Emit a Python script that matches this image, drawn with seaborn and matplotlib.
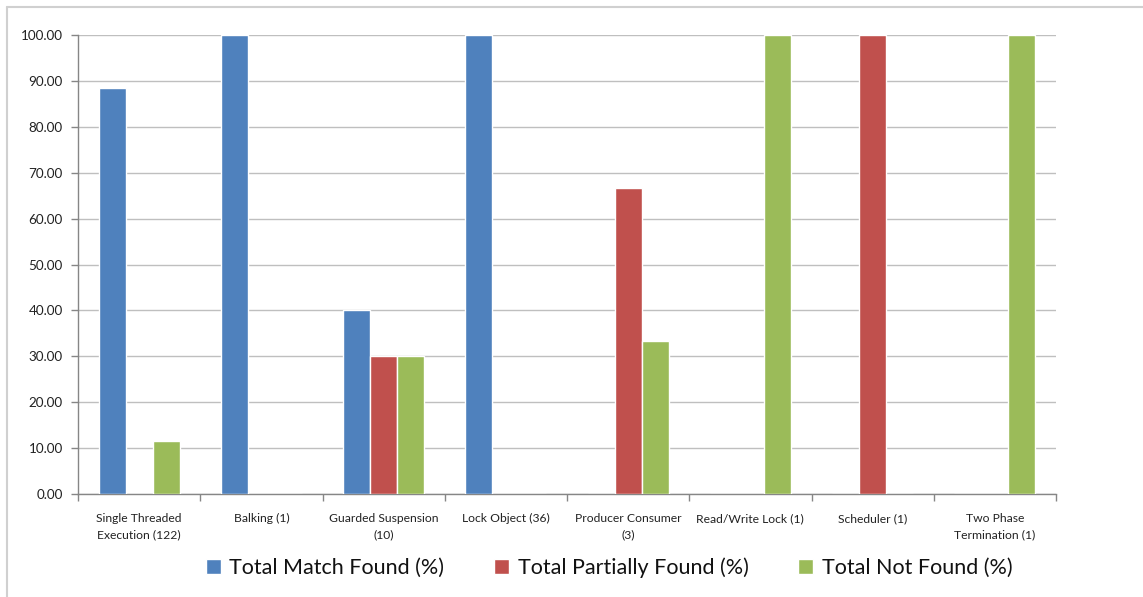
import matplotlib
matplotlib.use("Agg")
import matplotlib.pyplot as plt
import seaborn as sns
import pandas as pd
import numpy as np
from matplotlib.lines import Line2D
from matplotlib.ticker import FixedLocator, FormatStrFormatter

categories = ["Single Threaded\nExecution (122)", "Balking (1)", "Guarded Suspension\n(10)",
              "Lock Object (36)", "Producer Consumer\n(3)", "Read/Write Lock (1)",
              "Scheduler (1)", "Two Phase\nTermination (1)"]
series_names = ["Total Match Found (%)", "Total Partially Found (%)", "Total Not Found (%)"]
match_found = [88.52, 100.0, 40.0, 100.0, 0.0, 0.0, 0.0, 0.0]
partially_found = [0.0, 0.0, 30.0, 0.0, 66.67, 0.0, 100.0, 0.0]
not_found = [11.48, 0.0, 30.0, 0.0, 33.33, 100.0, 0.0, 100.0]
colors = ["#4F81BD", "#C0504D", "#9BBB59"]

rows = []
for name, vals in zip(series_names, [match_found, partially_found, not_found]):
    for c, v in zip(categories, vals):
        rows.append({"category": c, "series": name, "value": v})
df = pd.DataFrame(rows)

sns.set_style("white")
plt.rcParams["font.family"] = ["Lato", "DejaVu Sans"]

fig = plt.figure(figsize=(11.43, 5.97), dpi=100)
W, H = 1143, 597
ax = fig.add_axes([78 / W, 1 - 494 / H, (1056 - 78) / W, (494 - 35) / H])

sns.barplot(data=df, x="category", y="value", hue="series", order=categories,
            hue_order=series_names, palette=colors, width=0.663, ax=ax,
            saturation=1, legend=True, errorbar=None, zorder=3)

ax.set_xlim(-0.5, len(categories) - 0.5)
ax.set_ylim(0, 100)
ax.set_yticks(np.arange(0, 101, 10))
ax.yaxis.set_major_formatter(FormatStrFormatter("%.2f"))
ax.yaxis.grid(True, color="#BFBFBF", linewidth=1.0, zorder=0)
ax.set_axisbelow(True)
ax.tick_params(axis="y", labelsize=9.7, colors="#868686", labelcolor="#222222",
               length=5, width=1, direction="out", left=True, pad=6)

# category boundaries as major ticks, labels at centers
ax.xaxis.set_major_locator(FixedLocator(np.arange(-0.5, len(categories), 1.0)))
ax.xaxis.set_major_formatter(plt.NullFormatter())
ax.xaxis.set_minor_locator(FixedLocator(np.arange(len(categories))))
ax.set_xticklabels(categories, minor=True)
ax.tick_params(axis="x", which="major", length=5, width=1, colors="#868686",
               direction="out", bottom=True)
ax.tick_params(axis="x", which="minor", length=0, labelsize=8.7,
               labelcolor="#222222", pad=14)
for lbl in ax.get_xticklabels(minor=True):
    lbl.set_linespacing(1.5)

ax.set_xlabel("")
ax.set_ylabel("")
for s in ["top", "right"]:
    ax.spines[s].set_visible(False)
for s in ["left", "bottom"]:
    ax.spines[s].set_color("#868686")
    ax.spines[s].set_linewidth(1)

leg = ax.legend(loc="center", bbox_to_anchor=(609 / W, 1 - 568 / H),
                bbox_transform=fig.transFigure, ncol=3, frameon=False,
                fontsize=15.5, handlelength=0.7, handleheight=0.7,
                handletextpad=0.4, columnspacing=2.3)
for t in leg.get_texts():
    t.set_color("#111111")

# outer chart frame (left and top edges visible)
fig.add_artist(Line2D([7 / W, 7 / W], [0, 1 - 7 / H], color="#D0D0D0", linewidth=1.5,
                      transform=fig.transFigure))
fig.add_artist(Line2D([7 / W, 1], [1 - 7 / H, 1 - 7 / H], color="#D0D0D0", linewidth=1.5,
                      transform=fig.transFigure))

fig.savefig("out.png", dpi=100, facecolor="white")
